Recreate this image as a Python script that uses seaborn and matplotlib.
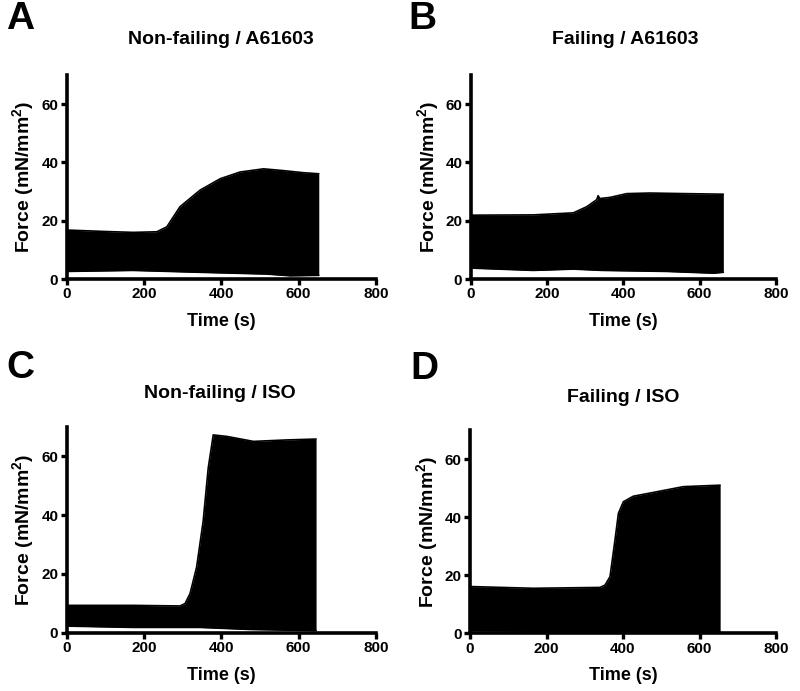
import numpy as np
import pandas as pd
import matplotlib
matplotlib.use("Agg")
import matplotlib.pyplot as plt
import seaborn as sns

sns.set_theme(style="ticks")
plt.rcParams['font.family'] = ['Liberation Sans', 'DejaVu Sans']
plt.rcParams['font.weight'] = 'bold'
plt.rcParams['text.color'] = 'black'
plt.rcParams['axes.labelcolor'] = 'black'
plt.rcParams['xtick.color'] = 'black'
plt.rcParams['ytick.color'] = 'black'
plt.rcParams['mathtext.fontset'] = 'custom'
plt.rcParams['mathtext.rm'] = 'Liberation Sans:bold'
plt.rcParams['mathtext.bf'] = 'Liberation Sans:bold'

# ---- data: envelope of force traces ----
a_time_up = [0, 100, 172, 233, 259, 293, 345, 397, 448, 509, 560, 610, 652]
a_upper = [16.8, 16.3, 16.0, 16.2, 17.9, 24.8, 30.5, 34.4, 36.7, 37.8, 37.2, 36.5, 36.1]
a_time_lo = [0, 172, 345, 517, 578, 652]
a_lower = [2.6, 2.95, 2.3, 1.7, 1.1, 1.25]

b_time_up = [0, 164, 269, 304, 330, 334, 338, 365, 409, 470, 560, 662]
b_upper = [21.9, 22.0, 22.7, 24.8, 27.2, 28.6, 27.6, 28.0, 29.3, 29.5, 29.3, 29.1]
b_time_lo = [0, 164, 269, 345, 514, 636, 662]
b_lower = [3.75, 2.95, 3.4, 2.95, 2.6, 2.0, 2.3]

c_time_up = [0, 172, 293, 306, 319, 336, 353, 366, 379, 414, 483, 569, 645]
c_upper = [9.3, 9.3, 9.1, 9.9, 13.3, 22.3, 38.0, 56.0, 67.3, 66.8, 65.1, 65.6, 65.9]
c_time_lo = [0, 172, 345, 474, 645]
c_lower = [2.25, 1.8, 1.8, 1.1, 0.7]

d_time_up = [0, 166, 340, 353, 366, 379, 388, 401, 427, 479, 558, 654]
d_upper = [16.1, 15.5, 15.8, 16.6, 19.5, 32.1, 41.3, 45.3, 47.2, 48.5, 50.5, 51.0]
d_time_lo = [0, 340, 654]
d_lower = [0.9, 0.6, 0.2]

titles = ["Non-failing / A61603", "Failing / A61603", "Non-failing / ISO", "Failing / ISO"]
letters = ["A", "B", "C", "D"]
x_ticks = [0, 200, 400, 600, 800]
y_ticks = [0, 20, 40, 60]
x_label = "Time (s)"
y_label = "Force (mN/mm$^{2}$)"

panels = [
    (a_time_up, a_upper, a_time_lo, a_lower),
    (b_time_up, b_upper, b_time_lo, b_lower),
    (c_time_up, c_upper, c_time_lo, c_lower),
    (d_time_up, d_upper, d_time_lo, d_lower),
]

W, H = 800, 691
fig = plt.figure(figsize=(8.0, 6.91), dpi=100)

# axes rectangles in pixel coordinates: left, right, top, bottom
rects_px = [
    (66.7, 376.0, 75.0, 279.0),
    (470.7, 776.0, 75.0, 279.0),
    (66.7, 376.0, 427.0, 632.7),
    (470.0, 776.0, 430.0, 633.3),
]
title_px = [(221, 40), (625, 40), (220, 393), (623, 397)]
letter_px = [(6, 19), (408, 19), (6, 368), (410, 369)]

for i, (tu, up, tl, lo) in enumerate(panels):
    l, r, t, b = rects_px[i]
    ax = fig.add_axes([l / W, (H - b) / H, (r - l) / W, (b - t) / H])
    t_all = np.union1d(tu, tl)
    up_i = np.interp(t_all, tu, up)
    lo_i = np.interp(t_all, tl, lo)
    ax.fill_between(t_all, lo_i, up_i, color="black", linewidth=0)
    sns.lineplot(x=tu, y=up, ax=ax, color="black", linewidth=1.2)
    sns.lineplot(x=tl, y=lo, ax=ax, color="black", linewidth=1.2)
    ax.set_xlim(0, 800)
    ax.set_ylim(0, 70)
    ax.set_xticks(x_ticks)
    ax.set_yticks(y_ticks)
    ax.set_xticklabels([str(v) for v in x_ticks], fontsize=11, fontweight="bold")
    ax.set_yticklabels([str(v) for v in y_ticks], fontsize=11, fontweight="bold")
    ax.tick_params(axis="both", direction="out", length=4.5, width=2.4, pad=1.5, colors="black")
    for s in ["left", "bottom"]:
        ax.spines[s].set_linewidth(2.6)
        ax.spines[s].set_color("black")
    for s in ["top", "right"]:
        ax.spines[s].set_visible(False)
    ax.set_xlabel(x_label, fontsize=13, fontweight="bold")
    ax.set_ylabel(y_label, fontsize=14, fontweight="bold")
    ax.xaxis.set_label_coords(0.5, -0.165)
    ax.yaxis.set_label_coords(-0.095, 0.5)
    ax.set_facecolor("white")
    tx, ty = title_px[i]
    fig.text(tx / W, (H - ty) / H, titles[i], ha="center", va="center",
             fontsize=14, fontweight="bold", color="black")
    lx, ly = letter_px[i]
    fig.text(lx / W, (H - ly) / H, letters[i], ha="left", va="center",
             fontsize=28, fontweight="bold", color="black")

fig.savefig("out.png", dpi=100, facecolor="white")
